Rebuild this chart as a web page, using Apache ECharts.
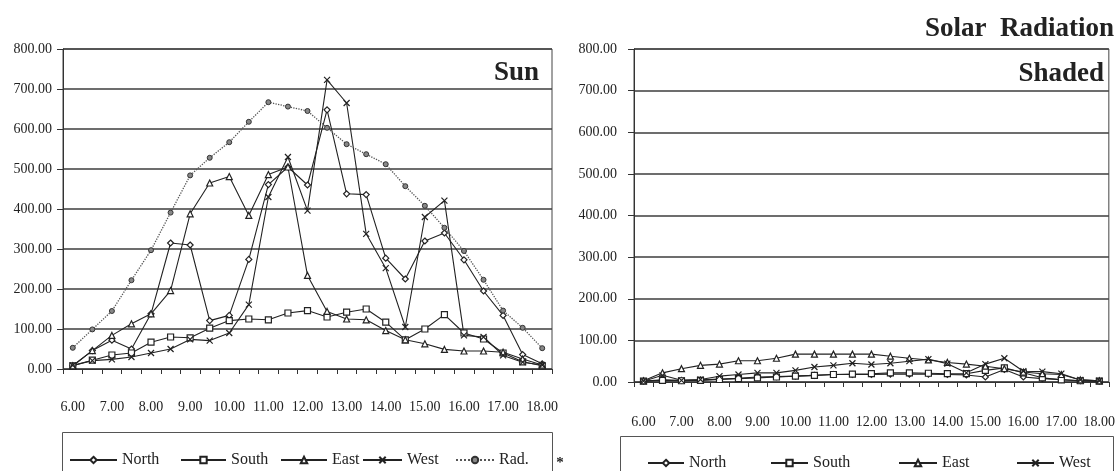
<!DOCTYPE html>
<html><head><meta charset="utf-8">
<script src="https://cdn.jsdelivr.net/npm/echarts@6/dist/echarts.min.js"></script>
<style>html,body{margin:0;padding:0;background:#fff}#c{width:1118px;height:471px}</style>
</head><body><div id="c"></div>
<script>
// Half-hour categories 6.00 .. 18.00 (labels shown every full hour)
const hours = ['6.00','6.30','7.00','7.30','8.00','8.30','9.00','9.30','10.00','10.30','11.00','11.30','12.00','12.30','13.00','13.30','14.00','14.30','15.00','15.30','16.00','16.30','17.00','17.30','18.00'];

// Left chart: Sun
const sunNorth = [8, 46, 72, 50, 138, 315, 310, 121, 134, 274, 461, 505, 460, 648, 438, 436, 277, 225, 320, 340, 273, 195, 134, 36, 13];
const sunSouth = [8, 22, 35, 40, 67, 80, 78, 102, 121, 125, 123, 140, 146, 130, 142, 150, 117, 73, 100, 136, 90, 75, 40, 18, 8];
const sunEast  = [8, 46, 84, 113, 138, 196, 388, 465, 481, 384, 486, 505, 234, 144, 125, 123, 96, 73, 63, 49, 45, 45, 42, 25, 10];
const sunWest  = [9, 21, 24, 30, 40, 50, 74, 71, 90, 161, 430, 530, 396, 723, 665, 338, 252, 105, 380, 421, 84, 80, 34, 17, 10];
const sunRad   = [53, 99, 145, 222, 297, 391, 484, 528, 567, 618, 667, 656, 645, 603, 562, 537, 512, 457, 408, 353, 295, 223, 146, 103, 52];

// Right chart: Shaded
const shNorth = [2, 5, 4, 5, 7, 9, 12, 13, 14, 16, 18, 18, 18, 19, 19, 19, 18, 17, 12, 30, 12, 8, 6, 3, 2];
const shSouth = [2, 4, 3, 4, 6, 8, 10, 12, 14, 16, 18, 19, 20, 22, 22, 21, 20, 20, 28, 34, 22, 10, 5, 3, 2];
const shEast  = [3, 22, 32, 40, 43, 51, 51, 57, 67, 67, 67, 67, 67, 62, 57, 53, 47, 43, 38, 32, 24, 20, 18, 5, 3];
const shWest  = [2, 16, 4, 6, 14, 18, 22, 22, 28, 36, 40, 45, 42, 45, 50, 55, 44, 22, 43, 57, 26, 25, 20, 5, 3];

// Legend entries
const sunLegend = ['North', 'South', 'East', 'West', 'Rad.'];
const shLegend = ['North', 'South', 'East', 'West'];

const FONT = '"Liberation Serif", "Times New Roman", serif';
const INK = '#222';
const X_SYM = 'path://M0,0L10,10M0,10L10,0';

function mk(name, data, idx, symbol, extra) {
  const s = {
    name, type: 'line', data, xAxisIndex: idx, yAxisIndex: idx,
    symbol, symbolSize: 6,
    lineStyle: { color: INK, width: 1.1 },
    itemStyle: { color: symbol === X_SYM ? 'none' : '#fff', borderColor: INK, borderWidth: 1.2 },
    emphasis: { disabled: true }, silent: true, animation: false
  };
  return Object.assign(s, extra || {});
}

function yAx(idx, margin) {
  return {
    type: 'value', gridIndex: idx, min: 0, max: 800, interval: 100,
    axisLine: { show: true, lineStyle: { color: '#333', width: 1 } },
    axisTick: { show: true, length: 6, lineStyle: { color: '#333' } },
    splitLine: { show: true, lineStyle: { color: '#3c3c3c', width: 1.5 } },
    axisLabel: { margin, fontFamily: FONT, fontSize: 14, color: '#222', formatter: v => v.toFixed(2) }
  };
}
function xAx(idx, margin) {
  return {
    type: 'category', gridIndex: idx, data: hours, boundaryGap: true,
    axisLine: { show: true, lineStyle: { color: '#333', width: 1 } },
    axisTick: { show: true, interval: 0, length: 5, lineStyle: { color: '#333' } },
    axisLabel: { interval: 1, margin, fontFamily: FONT, fontSize: 14, color: '#222' }
  };
}

// one legend component per entry so each sits where it does in the original
function leg(name, left, iconW, centerY) {
  return {
    data: [name], left, top: centerY - 8, padding: 0, itemGap: 0,
    itemWidth: iconW, itemHeight: 8, selectedMode: false,
    textStyle: { fontFamily: FONT, fontSize: 16, color: '#222' }
  };
}
const sunLegPos = [[69, 47], [180, 45], [280, 46], [362, 39], [455, 38]];
const shLegPos = [[647, 36], [770, 37], [898, 38], [1016, 37]];
const legends = [];
sunLegend.forEach((n, i) => legends.push(leg(n, sunLegPos[i][0], sunLegPos[i][1], 460)));
shLegend.forEach((n, i) => legends.push(leg(n, shLegPos[i][0], shLegPos[i][1], 463)));

const chart = echarts.init(document.getElementById('c'), null, { renderer: 'canvas' });
chart.setOption({
  animation: false,
  backgroundColor: '#fff',
  grid: [
    { left: 63, top: 49, width: 489, height: 320, show: true, borderColor: '#444', borderWidth: 1 },
    { left: 634, top: 49, width: 479, height: 333, show: true, borderColor: '#444', borderWidth: 1 }
  ],
  xAxis: [xAx(0, 31), xAx(1, 33)],
  yAxis: [yAx(0, 11), yAx(1, 17)],
  legend: legends,
  graphic: [
    { type: 'rect', shape: { x: 62.5, y: 432.5, width: 490, height: 60 }, style: { fill: 'none', stroke: '#555', lineWidth: 1 }, silent: true },
    { type: 'rect', shape: { x: 620.5, y: 436.5, width: 493, height: 60 }, style: { fill: 'none', stroke: '#555', lineWidth: 1 }, silent: true },
    { type: 'text', x: 539, y: 73, style: { text: 'Sun', font: 'bold 27px ' + FONT, fill: '#222', align: 'right', verticalAlign: 'middle' } },
    { type: 'text', x: 1104, y: 74, style: { text: 'Shaded', font: 'bold 27px ' + FONT, fill: '#222', align: 'right', verticalAlign: 'middle' } },
    { type: 'text', x: 1114, y: 29, style: { text: 'Solar  Radiation', font: 'bold 27px ' + FONT, fill: '#222', align: 'right', verticalAlign: 'middle' } },
    { type: 'text', x: 560, y: 463, style: { text: '*', font: 'bold 15px ' + FONT, fill: '#222', align: 'center', verticalAlign: 'middle' } }
  ],
  series: [
    mk('North', sunNorth, 0, 'diamond'),
    mk('South', sunSouth, 0, 'rect'),
    mk('East', sunEast, 0, 'triangle'),
    mk('West', sunWest, 0, X_SYM),
    mk('Rad.', sunRad, 0, 'circle', {
      lineStyle: { color: '#555', width: 1.3, type: 'dotted' },
      itemStyle: { color: '#888', borderColor: '#333', borderWidth: 1 }, symbolSize: 5
    }),
    mk('North', shNorth, 1, 'diamond'),
    mk('South', shSouth, 1, 'rect'),
    mk('East', shEast, 1, 'triangle'),
    mk('West', shWest, 1, X_SYM)
  ]
});
</script>
</body></html>
